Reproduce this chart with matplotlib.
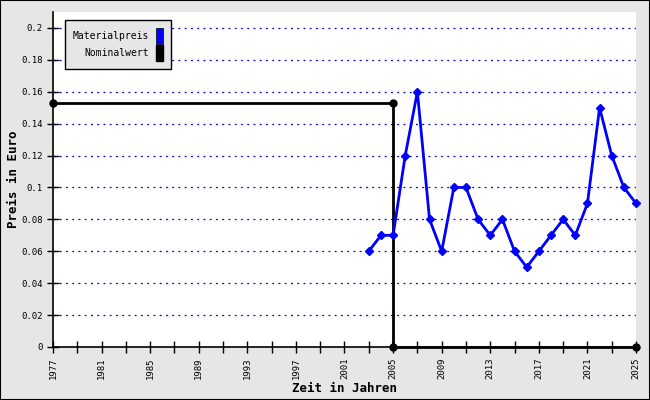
import numpy as np
import matplotlib
matplotlib.use("Agg")
import matplotlib.pyplot as plt
from matplotlib.patches import Rectangle
from matplotlib.ticker import FuncFormatter, FixedLocator

# Materialpreis (Euro) per year
mat_years = [2003, 2004, 2005, 2006, 2007, 2008, 2009, 2010, 2011, 2012, 2013, 2014,
             2015, 2016, 2017, 2018, 2019, 2020, 2021, 2022, 2023, 2024, 2025]
mat_price = [0.06, 0.07, 0.07, 0.12, 0.16, 0.08, 0.06, 0.10, 0.10, 0.08, 0.07, 0.08,
             0.06, 0.05, 0.06, 0.07, 0.08, 0.07, 0.09, 0.15, 0.12, 0.10, 0.09]

# Nominalwert
nom_years = [1977, 2005, 2005, 2025]
nom_value = [0.153, 0.153, 0.0, 0.0]

x_labels = list(range(1977, 2026, 4))
x_minor = list(range(1979, 2026, 4))
y_ticks = [0, 0.02, 0.04, 0.06, 0.08, 0.1, 0.12, 0.14, 0.16, 0.18, 0.2]

plt.rcParams['font.family'] = ['DejaVu Sans Mono']

fig = plt.figure(figsize=(6.5, 4), dpi=100, facecolor='#e6e6e6')
fig.patches.append(Rectangle((0, 0), 1, 1, transform=fig.transFigure, fill=False,
                             edgecolor='black', linewidth=1.5))
ax = fig.add_axes([0.0815, 0.1325, 0.897, 0.8375])
ax.set_facecolor('white')

for y in y_ticks[1:]:
    ax.axhline(y, color='#0000dd', linestyle=(0, (1.5, 3.5)), linewidth=0.9, zorder=1)

ax.plot(nom_years, nom_value, color='black', linewidth=2, marker='o', markersize=5,
        zorder=3, clip_on=False)
ax.plot(mat_years, mat_price, color='#0000ff', linewidth=2, marker='D', markersize=4,
        zorder=4, clip_on=False)

ax.set_xlim(1977, 2025)
ax.set_ylim(0, 0.21)
ax.set_xticks(x_labels)
ax.xaxis.set_minor_locator(FixedLocator(x_minor))
ax.set_yticks(y_ticks)
ax.yaxis.set_major_formatter(FuncFormatter(lambda v, p: '%g' % round(v, 3)))
ax.tick_params(axis='x', which='both', direction='inout', length=8, width=1,
               labelsize=6.5, rotation=90)
ax.tick_params(axis='y', direction='inout', length=8, width=1, labelsize=6.5)

for s in ['top', 'right']:
    ax.spines[s].set_visible(False)
for s in ['left', 'bottom']:
    ax.spines[s].set_linewidth(1.2)

ax.set_xlabel('Zeit in Jahren', fontsize=9, fontweight='bold')
ax.xaxis.set_label_coords(0.5, -0.105)
ax.set_ylabel('Preis in Euro', fontsize=9, fontweight='bold')
ax.yaxis.set_label_coords(-0.057, 0.5)

handles = [Rectangle((0, 0), 1, 1, facecolor='#0000ff', edgecolor='black', linewidth=0.5),
           Rectangle((0, 0), 1, 1, facecolor='black', edgecolor='black')]
leg = fig.legend(handles, ['Materialpreis', 'Nominalwert'], loc='upper left',
                 bbox_to_anchor=(0.1, 0.95), borderaxespad=0, markerfirst=False,
                 fancybox=False, framealpha=1, edgecolor='black', facecolor='#e6e6e6',
                 fontsize=7, handlelength=0.7, handleheight=2.2, handletextpad=0.7,
                 labelspacing=0.1, borderpad=0.8)
leg.get_frame().set_linewidth(1)
for t in leg.get_texts():
    t.set_ha('right')

fig.savefig('out.png', dpi=100, facecolor=fig.get_facecolor())
